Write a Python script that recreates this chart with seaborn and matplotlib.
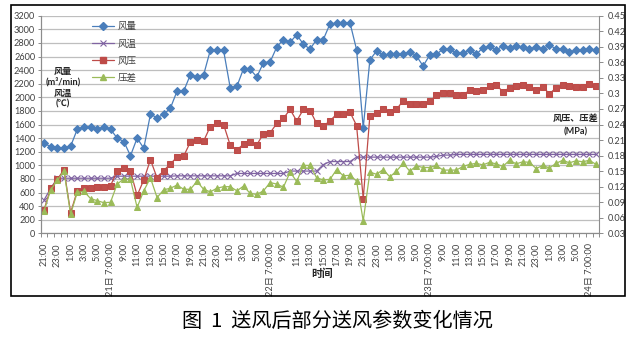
import numpy as np
import pandas as pd
import matplotlib
matplotlib.use("Agg")
import matplotlib.pyplot as plt
from matplotlib.patches import Rectangle
from matplotlib.lines import Line2D
import seaborn as sns

# Hourly readings from 20日 21:00 to 24日 8:00
air_volume = [1330, 1270, 1260, 1260, 1280, 1530, 1560, 1560, 1530, 1560,
              1530, 1400, 1350, 1140, 1400, 1250, 1750, 1700, 1750, 1840,
              2090, 2090, 2330, 2300, 2330, 2690, 2690, 2690, 2140, 2160,
              2420, 2410, 2300, 2510, 2520, 2740, 2850, 2810, 2920, 2780,
              2710, 2850, 2850, 3080, 3090, 3090, 3100, 2700, 1550, 2550,
              2680, 2620, 2630, 2630, 2640, 2670, 2610, 2460, 2620, 2630,
              2710, 2710, 2650, 2650, 2700, 2630, 2730, 2750, 2690, 2760,
              2730, 2750, 2740, 2710, 2740, 2710, 2770, 2710, 2710, 2660,
              2690, 2690, 2710, 2690]

air_temp = [490, 660, 810, 810, 810, 810, 810, 810, 810, 810,
            810, 840, 840, 840, 840, 840, 840, 840, 840, 840,
            845, 845, 845, 845, 845, 845, 845, 845, 845, 880,
            880, 880, 880, 880, 880, 880, 880, 915, 915, 915,
            915, 915, 1010, 1055, 1055, 1055, 1055, 1120, 1120, 1120,
            1120, 1120, 1120, 1120, 1120, 1120, 1120, 1120, 1120, 1130,
            1150, 1150, 1160, 1160, 1160, 1160, 1160, 1160, 1160, 1160,
            1160, 1160, 1160, 1160, 1160, 1160, 1160, 1160, 1160, 1160,
            1160, 1160, 1160, 1160]

air_pressure = [0.075, 0.117, 0.134, 0.153, 0.070, 0.112, 0.117, 0.117, 0.120, 0.119,
                0.122, 0.150, 0.157, 0.150, 0.103, 0.133, 0.172, 0.137, 0.151, 0.164,
                0.177, 0.179, 0.206, 0.211, 0.208, 0.236, 0.242, 0.240, 0.200, 0.191,
                0.202, 0.206, 0.201, 0.222, 0.224, 0.242, 0.252, 0.269, 0.247, 0.269,
                0.267, 0.242, 0.237, 0.247, 0.260, 0.260, 0.264, 0.238, 0.097, 0.257,
                0.262, 0.269, 0.264, 0.269, 0.286, 0.280, 0.280, 0.280, 0.285, 0.296,
                0.301, 0.301, 0.296, 0.297, 0.306, 0.305, 0.306, 0.314, 0.317, 0.303,
                0.311, 0.315, 0.316, 0.312, 0.306, 0.313, 0.299, 0.311, 0.316, 0.314,
                0.312, 0.312, 0.319, 0.315]

pressure_diff = [0.073, 0.114, 0.132, 0.150, 0.067, 0.109, 0.111, 0.097, 0.093, 0.089,
                 0.090, 0.125, 0.135, 0.134, 0.080, 0.112, 0.137, 0.099, 0.114, 0.117,
                 0.123, 0.115, 0.115, 0.130, 0.115, 0.110, 0.117, 0.120, 0.120, 0.112,
                 0.121, 0.107, 0.105, 0.112, 0.128, 0.125, 0.119, 0.148, 0.130, 0.161,
                 0.161, 0.137, 0.133, 0.134, 0.153, 0.141, 0.142, 0.131, 0.054, 0.148,
                 0.144, 0.153, 0.139, 0.150, 0.165, 0.150, 0.160, 0.157, 0.157, 0.161,
                 0.152, 0.152, 0.152, 0.159, 0.163, 0.165, 0.162, 0.167, 0.164, 0.159,
                 0.171, 0.164, 0.168, 0.167, 0.155, 0.161, 0.156, 0.165, 0.171, 0.166,
                 0.170, 0.168, 0.171, 0.163]

# Labels shown on every second reading
time_labels = ["21:00", "23:00", "1:00", "3:00", "5:00", "21日 7:00:00",
               "9:00", "11:00", "13:00", "15:00", "17:00", "19:00",
               "21:00", "23:00", "1:00", "3:00", "5:00", "22日 7:00:00",
               "9:00", "11:00", "13:00", "15:00", "17:00", "19:00",
               "21:00", "23:00", "1:00", "3:00", "5:00", "23日 7:00:00",
               "9:00", "11:00", "13:00", "15:00", "17:00", "19:00",
               "21:00", "23:00", "1:00", "3:00", "5:00", "24日 7:00:00"]

left_ticks = [0, 200, 400, 600, 800, 1000, 1200, 1400, 1600, 1800, 2000,
              2200, 2400, 2600, 2800, 3000, 3200]
right_ticks = [0.03, 0.06, 0.09, 0.12, 0.15, 0.18, 0.21, 0.24, 0.27, 0.30,
               0.33, 0.36, 0.39, 0.42, 0.45]

sns.set_theme(style="white")
plt.rcParams["font.family"] = ["Lato", "Noto Sans CJK SC", "DejaVu Sans"]
plt.rcParams["axes.unicode_minus"] = False

df = pd.DataFrame({
    "idx": np.arange(len(air_volume)),
    "风量": air_volume,
    "风温": air_temp,
    "风压": air_pressure,
    "压差": pressure_diff,
})

W, H = 638, 338
fig = plt.figure(figsize=(W / 100, H / 100), dpi=100)
fig.patch.set_facecolor("white")

x0, x1, y_top, y_bot = 40.7, 599.3, 15.7, 233.3
ax = fig.add_axes([x0 / W, 1 - y_bot / H, (x1 - x0) / W, (y_bot - y_top) / H])
ax2 = ax.twinx()

BLUE, PURPLE, RED, GREEN = "#4A7EBB", "#8064A2", "#BE4B48", "#9BBB59"
lw = 0.9

sns.lineplot(data=df, x="idx", y="风量", ax=ax, color=BLUE, linewidth=lw,
             marker="D", markersize=3.6, markeredgecolor=BLUE, legend=False)
sns.lineplot(data=df, x="idx", y="风温", ax=ax, color=PURPLE, linewidth=lw,
             marker="x", markersize=3.8, markeredgewidth=0.8,
             markeredgecolor=PURPLE, legend=False)
sns.lineplot(data=df, x="idx", y="风压", ax=ax2, color=RED, linewidth=lw,
             marker="s", markersize=4.2, markeredgecolor=RED,
             markerfacecolor="#C0504D", legend=False)
sns.lineplot(data=df, x="idx", y="压差", ax=ax2, color=GREEN, linewidth=lw,
             marker="^", markersize=4.3, markeredgecolor=GREEN, legend=False)

n = len(air_volume)
ax.set_xlim(-0.5, n - 0.5)
ax.set_ylim(0, 3200)
ax2.set_ylim(0.03, 0.45)

GRID = "#BEBEBE"
AXIS = "#8C8C8C"
TXT = "#404040"

ax.set_yticks(left_ticks)
ax.set_yticklabels([str(v) for v in left_ticks], fontsize=6.6, color=TXT)
ax.yaxis.grid(True, color=GRID, linewidth=0.9)
ax.xaxis.grid(False)
ax.set_axisbelow(True)

ax2.set_yticks(right_ticks)
ax2.set_yticklabels([f"{v:g}" for v in right_ticks], fontsize=6.6, color=TXT)
ax2.grid(False)

ax.set_xticks(np.arange(0, n - 1, 2))
ax.set_xticklabels(time_labels, rotation=90, fontsize=6.6, color=TXT,
                   va="top", ha="center")
ax.set_xticks(np.arange(-0.5, n, 1), minor=True)
ax.tick_params(axis="x", which="major", length=0, pad=7)
ax.tick_params(axis="x", which="minor", length=3, width=0.7, color=AXIS,
               direction="out", bottom=True)
ax.tick_params(axis="y", which="major", length=2, width=0.7, color=AXIS,
               pad=2, left=True)
ax2.tick_params(axis="y", which="major", length=3, width=0.7, color=AXIS,
                pad=3, right=True)

for a in (ax, ax2):
    a.set_xlabel("")
    a.set_ylabel("")
    a.spines["top"].set_visible(False)
    for s in ("left", "right", "bottom"):
        a.spines[s].set_color(AXIS)
        a.spines[s].set_linewidth(0.8)
ax.spines["right"].set_visible(False)

# Legend (upper-left, frameless)
handles = [
    Line2D([], [], color=BLUE, lw=lw, marker="D", ms=3.6, mec=BLUE),
    Line2D([], [], color=PURPLE, lw=lw, marker="x", ms=3.8, mew=0.8),
    Line2D([], [], color=RED, lw=lw, marker="s", ms=4.2, mec=RED),
    Line2D([], [], color=GREEN, lw=lw, marker="^", ms=4.3, mec=GREEN),
]
leg = ax2.legend(handles, ["风量", "风温", "风压", "压差"],
                 loc="upper left", bbox_to_anchor=(92 / W, 1 - 22 / H),
                 bbox_transform=fig.transFigure, frameon=False,
                 fontsize=6.8, handlelength=2.3, handletextpad=0.4,
                 labelspacing=0.85, borderpad=0, borderaxespad=0)
for t in leg.get_texts():
    t.set_color(TXT)

# Axis titles
fig.text(63 / W, 1 - 87.5 / H, "风量\n(m³/min)\n风温\n(℃)", ha="center",
         va="center", fontsize=6.6, fontweight="bold", color="#262626",
         linespacing=1.25)
fig.text(598 / W, 1 - 118 / H, "风压、压差", ha="right", va="center",
         fontsize=6.6, fontweight="bold", color="#262626")
fig.text(576 / W, 1 - 132 / H, "(MPa)", ha="center", va="center",
         fontsize=6.6, fontweight="bold", color="#262626")
fig.text(322 / W, 1 - 273 / H, "时间", ha="center", va="center",
         fontsize=7.8, fontweight="bold", color="#262626")

# Outer chart frame
fig.patches.append(Rectangle((10.7 / W, 1 - 296 / H), (625 - 10.7) / W,
                             (296 - 4.7) / H, transform=fig.transFigure,
                             fill=False, edgecolor="black", linewidth=1.2))

# Figure caption
fig.text(337 / W, 1 - 321 / H, "图  1  送风后部分送风参数变化情况",
         ha="center", va="center", fontsize=14.5, color="black",
         family=["Noto Sans CJK SC", "DejaVu Sans"])

fig.savefig("out.png", dpi=100, facecolor="white")
